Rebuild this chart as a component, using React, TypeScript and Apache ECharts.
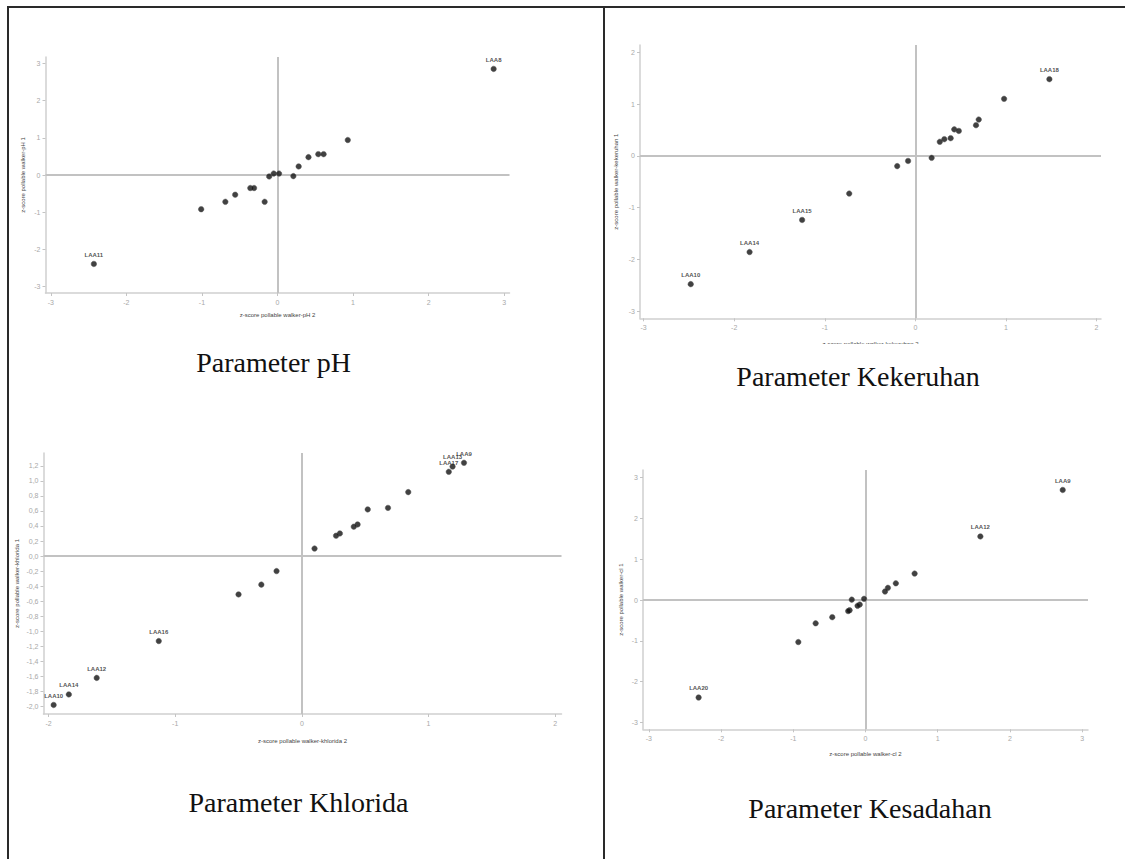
import React, { useEffect, useRef } from "react";
import * as echarts from "echarts";

// ---- Data ----
const phX = [2.86, -2.43, -1.01, -0.69, -0.56, -0.36, -0.31, -0.17, -0.11, -0.05, 0.02, 0.21, 0.28, 0.41, 0.54, 0.61, 0.93];
const phY = [2.85, -2.39, -0.92, -0.72, -0.53, -0.35, -0.35, -0.72, -0.04, 0.04, 0.04, -0.03, 0.23, 0.48, 0.56, 0.56, 0.94];
const phLabels = ["LAA8", "LAA11", "", "", "", "", "", "", "", "", "", "", "", "", "", "", ""];

const kekX = [1.48, 0.98, 0.7, 0.67, 0.43, 0.48, 0.39, 0.32, 0.27, 0.18, -0.08, -0.2, -0.73, -1.25, -1.83, -2.48];
const kekY = [1.48, 1.1, 0.7, 0.59, 0.51, 0.48, 0.34, 0.32, 0.27, -0.04, -0.1, -0.2, -0.73, -1.24, -1.86, -2.48];
const kekLabels = ["LAA18", "", "", "", "", "", "", "", "", "", "", "", "", "LAA15", "LAA14", "LAA10"];

const khlX = [1.28, 1.19, 1.16, 0.84, 0.68, 0.52, 0.44, 0.41, 0.3, 0.27, 0.1, -0.2, -0.32, -0.5, -1.13, -1.62, -1.84, -1.96];
const khlY = [1.24, 1.19, 1.12, 0.85, 0.64, 0.62, 0.42, 0.39, 0.3, 0.27, 0.1, -0.2, -0.38, -0.51, -1.13, -1.62, -1.84, -1.98];
const khlLabels = ["LAA9", "LAA13", "LAA17", "", "", "", "", "", "", "", "", "", "", "", "LAA16", "LAA12", "LAA14", "LAA10"];

const kesX = [2.73, 1.59, 0.68, 0.42, 0.31, 0.27, -0.02, -0.19, -0.08, -0.11, -0.22, -0.24, -0.46, -0.69, -0.93, -2.31];
const kesY = [2.7, 1.56, 0.65, 0.41, 0.3, 0.21, 0.03, 0.01, -0.11, -0.14, -0.25, -0.27, -0.42, -0.57, -1.03, -2.39];
const kesLabels = ["LAA9", "LAA12", "", "", "", "", "", "", "", "", "", "", "", "", "", "LAA20"];

const phTicksX = [-3, -2, -1, 0, 1, 2, 3];
const phTicksY = [-3, -2, -1, 0, 1, 2, 3];
const kekTicksX = [-3, -2, -1, 0, 1, 2];
const kekTicksY = [-3, -2, -1, 0, 1, 2];
const khlTicksX = [-2, -1, 0, 1, 2];
const khlTicksY = [-2.0, -1.8, -1.6, -1.4, -1.2, -1.0, -0.8, -0.6, -0.4, -0.2, 0.0, 0.2, 0.4, 0.6, 0.8, 1.0, 1.2];
const kesTicksX = [-3, -2, -1, 0, 1, 2, 3];
const kesTicksY = [-3, -2, -1, 0, 1, 2, 3];

const captions = ["Parameter pH", "Parameter Kekeruhan", "Parameter Khlorida", "Parameter Kesadahan"];
const xNames = [
  "z-score pollable walker-pH 2",
  "z-score pollable walker-kekeruhan 2",
  "z-score pollable walker-khlorida 2",
  "z-score pollable walker-cl 2",
];
const yNames = [
  "z-score pollable walker-pH 1",
  "z-score pollable walker-kekeruhan 1",
  "z-score pollable walker-khlorida 1",
  "z-score pollable walker-cl 1",
];

const SANS = "'Liberation Sans', Arial, sans-serif";
const SERIF = "'Liberation Serif', 'Times New Roman', serif";

export default function App() {
  const ref = useRef<HTMLDivElement>(null);

  useEffect(() => {
    if (!ref.current) return;
    const chart = echarts.init(ref.current, undefined, { renderer: "svg" });

    const panels = [
      { xs: phX, ys: phY, labels: phLabels, tx: phTicksX, ty: phTicksY, grid: { left: 45.5, top: 57, width: 464, height: 236 }, xr: [-3.07, 3.07], yr: [-3.17, 3.17], xGap: 19, yGap: 20, dec: false },
      { xs: kekX, ys: kekY, labels: kekLabels, tx: kekTicksX, ty: kekTicksY, grid: { left: 640, top: 45, width: 461, height: 273.3 }, xr: [-3.04, 2.05], yr: [-3.14, 2.14], xGap: 23, yGap: 21, dec: false },
      { xs: khlX, ys: khlY, labels: khlLabels, tx: khlTicksX, ty: khlTicksY, grid: { left: 43.5, top: 453, width: 518, height: 261 }, xr: [-2.04, 2.05], yr: [-2.1, 1.37], xGap: 24, yGap: 24, dec: true },
      { xs: kesX, ys: kesY, labels: kesLabels, tx: kesTicksX, ty: kesTicksY, grid: { left: 643, top: 470, width: 445, height: 259.3 }, xr: [-3.08, 3.08], yr: [-3.17, 3.19], xGap: 22, yGap: 19, dec: false },
    ];

    const axisCommon = {
      axisLine: { show: true, onZero: false, lineStyle: { color: "#cfcfcf", width: 1.5 } },
      axisTick: { show: true, length: 3, lineStyle: { color: "#c4c4c4", width: 1 } },
      splitLine: { show: false },
      nameTextStyle: { fontSize: 6, color: "#444", fontFamily: SANS },
    };

    const option: any = {
      animation: false,
      backgroundColor: "#ffffff",
      grid: panels.map((p) => ({ ...p.grid, containLabel: false })),
      xAxis: panels.map((p, i) => ({
        type: "value",
        gridIndex: i,
        min: p.xr[0],
        max: p.xr[1],
        position: "bottom",
        name: xNames[i],
        nameLocation: "middle",
        nameGap: p.xGap,
        ...axisCommon,
        axisTick: { ...axisCommon.axisTick, customValues: p.tx },
        axisLabel: {
          customValues: p.tx,
          fontSize: 7,
          color: "#a8a8a8",
          margin: 6,
          fontFamily: SANS,
          formatter: (v: number) => String(Math.round(v)),
        },
      })),
      yAxis: panels.map((p, i) => ({
        type: "value",
        gridIndex: i,
        min: p.yr[0],
        max: p.yr[1],
        position: "left",
        name: yNames[i],
        nameLocation: "middle",
        nameGap: p.yGap,
        nameRotate: 90,
        ...axisCommon,
        axisTick: { ...axisCommon.axisTick, customValues: p.ty },
        axisLabel: {
          customValues: p.ty,
          fontSize: 7,
          color: "#a8a8a8",
          margin: 5,
          fontFamily: SANS,
          formatter: (v: number) =>
            p.dec ? v.toFixed(1).replace(".", ",").replace("-0,0", "0,0") : String(Math.round(v)),
        },
      })),
      series: panels.map((p, i) => ({
        type: "scatter",
        xAxisIndex: i,
        yAxisIndex: i,
        symbol: "circle",
        symbolSize: 5.5,
        z: 5,
        itemStyle: { color: "#111111", borderColor: "#555555", borderWidth: 0.6 },
        data: p.xs.map((x, k) => ({
          value: [x, p.ys[k]],
          label: {
            show: p.labels[k] !== "",
            formatter: p.labels[k],
            position: "top",
            distance: 3,
            fontSize: 6,
            fontWeight: "bold",
            color: "#222222",
            fontFamily: SANS,
          },
        })),
        markLine: {
          silent: true,
          symbol: ["none", "none"],
          label: { show: false },
          z: 1,
          lineStyle: { color: "#c2c2c2", width: 2, type: "solid" },
          data: [{ xAxis: 0 }, { yAxis: 0 }],
        },
      })),
      graphic: [
        { type: "line", z: 100, shape: { x1: 7, y1: 7, x2: 1125, y2: 7 }, style: { stroke: "#2a2a2a", lineWidth: 2 } },
        { type: "line", z: 100, shape: { x1: 8, y1: 7, x2: 8, y2: 859 }, style: { stroke: "#2a2a2a", lineWidth: 2 } },
        { type: "line", z: 100, shape: { x1: 604, y1: 7, x2: 604, y2: 859 }, style: { stroke: "#2a2a2a", lineWidth: 2 } },
        { type: "rect", z: 99, shape: { x: 650, y: 344, width: 440, height: 12 }, style: { fill: "#ffffff" } },
        { type: "text", z: 100, x: 273.5, y: 362, style: { text: captions[0], font: `28px ${SERIF}`, fill: "#111", textAlign: "center", textVerticalAlign: "middle" } },
        { type: "text", z: 100, x: 858, y: 376, style: { text: captions[1], font: `28px ${SERIF}`, fill: "#111", textAlign: "center", textVerticalAlign: "middle" } },
        { type: "text", z: 100, x: 298.5, y: 802, style: { text: captions[2], font: `28px ${SERIF}`, fill: "#111", textAlign: "center", textVerticalAlign: "middle" } },
        { type: "text", z: 100, x: 870, y: 808, style: { text: captions[3], font: `28px ${SERIF}`, fill: "#111", textAlign: "center", textVerticalAlign: "middle" } },
      ],
    };

    chart.setOption(option);
    return () => chart.dispose();
  }, []);

  return (
    <div
      ref={ref}
      style={{ position: "fixed", left: 0, top: 0, width: 1125, height: 859, background: "#fff" }}
    />
  );
}
